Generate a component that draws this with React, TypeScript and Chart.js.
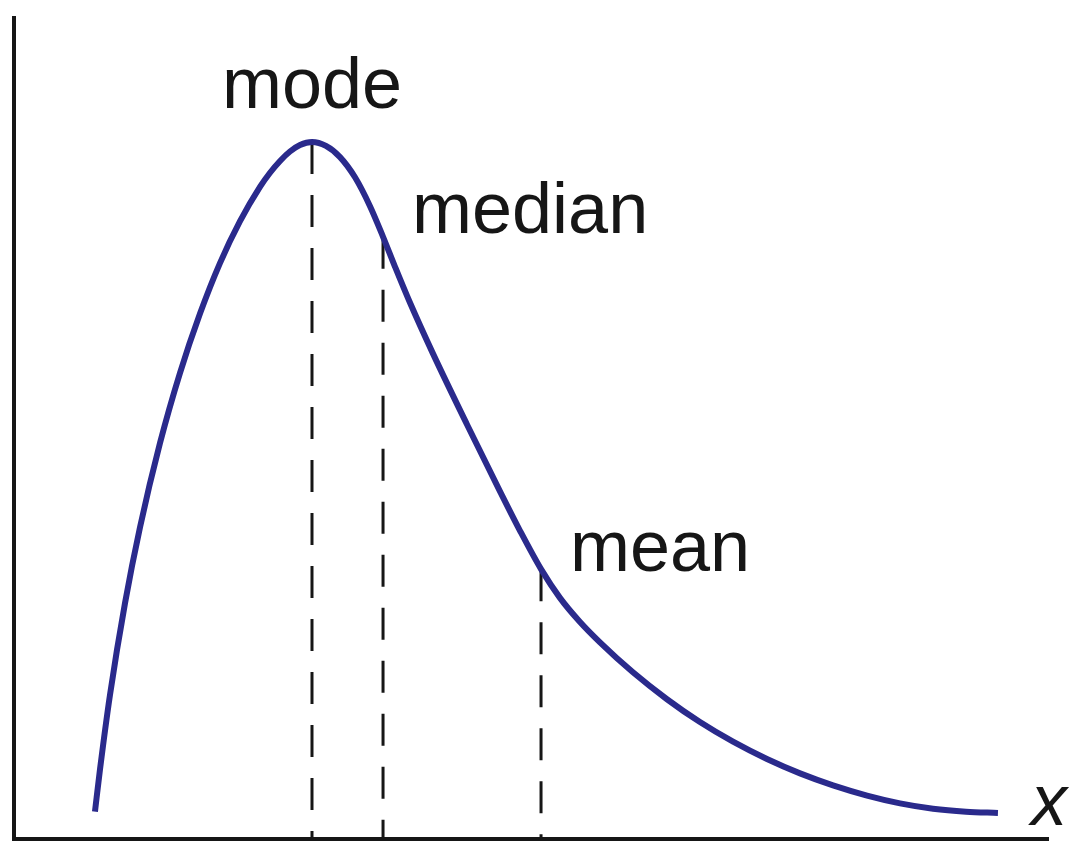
import React, { useEffect, useRef } from "react";
import { Chart, registerables } from "chart.js";

Chart.register(...registerables);

// Skewed distribution curve (x in arbitrary units 0..10, y density 0..1)
const curveX = [
  0.783, 0.832, 0.928, 1.074, 1.219, 1.412, 1.605, 1.799, 1.992, 2.186, 2.379, 2.476, 2.573, 2.669,
  2.766, 2.882, 3.017, 3.153, 3.298, 3.443, 3.569, 3.685, 3.83, 4.052, 4.381, 4.7, 4.894, 5.097,
  5.28, 5.474, 5.667, 5.986, 6.315, 6.634, 6.954, 7.282, 7.602, 7.921, 8.25, 8.569, 8.888, 9.207,
  9.516,
];
const curveY = [
  0.0334, 0.0851, 0.1753, 0.2876, 0.3799, 0.4822, 0.5675, 0.64, 0.7015, 0.7526, 0.7943, 0.8115,
  0.8259, 0.8374, 0.8453, 0.849, 0.8442, 0.8306, 0.806, 0.7708, 0.7335, 0.697, 0.6531, 0.5912,
  0.5049, 0.4235, 0.3754, 0.3287, 0.2937, 0.2643, 0.2395, 0.203, 0.1702, 0.1424, 0.1185, 0.0974,
  0.0799, 0.0653, 0.0529, 0.0434, 0.0369, 0.0333, 0.0317,
];

// Central tendency markers
const markerNames = ["mode", "median", "mean"];
const markerX = [2.882, 3.569, 5.097];
const markerTop = [0.849, 0.7335, 0.3287];

const axisLabel = "x";

const CURVE_COLOR = "#2a2a8c";
const INK = "#161616";

const labelPlugin = {
  id: "markerLabels",
  afterDatasetsDraw(chart: any) {
    const { ctx, scales, chartArea } = chart;
    const xs = scales.x;
    const ys = scales.y;
    ctx.save();
    ctx.fillStyle = INK;
    ctx.textBaseline = "alphabetic";
    ctx.font = "72px 'Liberation Sans', Arial, sans-serif";
    ctx.textAlign = "center";
    ctx.fillText(markerNames[0], xs.getPixelForValue(markerX[0]), ys.getPixelForValue(markerTop[0]) - 34);
    ctx.textAlign = "left";
    ctx.fillText(markerNames[1], xs.getPixelForValue(markerX[1]) + 29, ys.getPixelForValue(markerTop[1]) - 4);
    ctx.fillText(markerNames[2], xs.getPixelForValue(markerX[2]) + 29, ys.getPixelForValue(markerTop[2]) + 2);
    ctx.font = "italic 72px 'Liberation Sans', Arial, sans-serif";
    ctx.textAlign = "right";
    ctx.fillText(axisLabel, chartArea.right + 19, chartArea.bottom - 14);
    ctx.restore();
  },
};

export default function App() {
  const canvasRef = useRef<HTMLCanvasElement | null>(null);

  useEffect(() => {
    if (!canvasRef.current) return;
    const curveData = curveX.map((v, i) => ({ x: v, y: curveY[i] }));
    const markerSets = markerX.map((mx, i) => ({
      label: markerNames[i],
      data: [
        { x: mx, y: markerTop[i] },
        { x: mx, y: 0 },
      ],
      borderColor: INK,
      borderWidth: 3,
      borderDash: [32, 21],
      pointRadius: 0,
      tension: 0,
      fill: false,
    }));

    const chart = new Chart(canvasRef.current, {
      type: "line",
      data: {
        datasets: [
          {
            label: "density",
            data: curveData,
            borderColor: CURVE_COLOR,
            borderWidth: 6,
            pointRadius: 0,
            cubicInterpolationMode: "monotone",
            fill: false,
            borderCapStyle: "butt",
          },
          ...markerSets,
        ],
      },
      options: {
        animation: false,
        responsive: false,
        layout: { padding: { left: 14, top: 18, right: 33, bottom: 15 } },
        plugins: {
          legend: { display: false },
          tooltip: { enabled: false },
        },
        scales: {
          x: {
            type: "linear",
            min: 0,
            max: 10,
            ticks: { display: false },
            grid: { display: false, drawTicks: false },
            border: { display: true, color: INK, width: 4 },
            afterFit: (s: any) => {
              s.height = 0;
            },
          },
          y: {
            type: "linear",
            min: 0,
            max: 1,
            ticks: { display: false },
            grid: { display: false, drawTicks: false },
            border: { display: true, color: INK, width: 4 },
            afterFit: (s: any) => {
              s.width = 0;
            },
          },
        },
      },
      plugins: [labelPlugin],
    } as any);

    return () => chart.destroy();
  }, []);

  return (
    <div style={{ position: "absolute", left: 0, top: 0, width: 1081, height: 854, background: "#fff" }}>
      <canvas ref={canvasRef} width={1081} height={854} />
    </div>
  );
}
